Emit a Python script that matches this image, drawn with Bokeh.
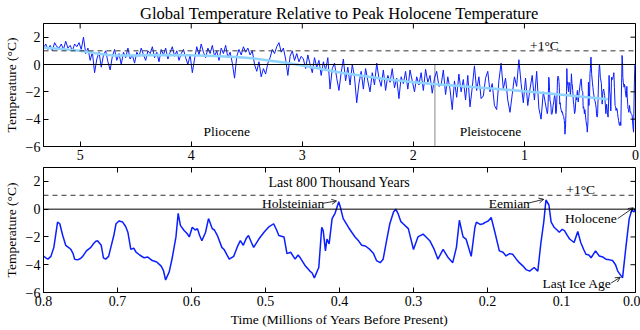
import numpy as np
from bokeh.plotting import figure
from bokeh.layouts import column
from bokeh.models import Range1d, FixedTicker, Label, Arrow, OpenHead, Span
from bokeh.embed import file_html
from bokeh.resources import INLINE

FONT = "Liberation Serif"

# ---------------- data ----------------
top_start = 5.33
top_step = 0.02
top_temp = [
    1.2, 1.5, 1.1, 1.4, 1.0, 1.6, 1.3, 1.2, 1.5, 1.1, 1.7, 1.2, 1.4, 1.0, 1.5, 1.3, 1.6, 1.1, 2.0,
    0.8, 1.2, 0.3, 0.9, -0.6, 0.4, 0.9, -0.2, 0.7, 1.0, 0.2, -0.4, 0.6, 1.1, 0.3, 0.8, 0.0, 0.9, 0.5, 1.2, 0.4, 0.7, 0.1, 0.9,
    0.6, 1.2, 0.7, 0.3, 1.0, 0.8, 1.3, 0.5, 0.9, 0.2, 1.1, 0.7, 1.2, 0.4, 0.9, 1.3, 0.6, 1.0, 0.3, 0.8, 1.1, 0.5, 0.0, 0.7,
    -0.6, 0.4, 1.3, 0.7, 1.5, 0.9, 0.5, 1.2, 0.8, 1.4, 0.6, 1.0, 0.3, 1.2, 0.8, 1.4, 0.5, 0.9, 0.1, -1.0, 0.6, 1.1, 0.7, 1.3, 0.9,
    1.2, 0.7, 1.0, 0.0, -0.5, 0.2, -0.9, -0.3, -0.7, 0.1,
    0.5, 1.1, 0.8, 1.3, 1.6, 0.9, 1.2, 0.4, -0.8, 0.6, 1.0, 0.3, 0.8, 0.2, 0.6,
    0.4, -0.3, 0.7, 0.0, -0.6, 0.5, -0.2, 0.3, -0.8, 0.2, -0.4, 0.5, -1.8, -0.3, 0.1, -1.0, -1.9,
    -0.6, 0.4, -1.2, -0.2, -1.5, 0.0, -0.9, -2.8, -1.4,
    -0.5, -1.8, -0.3, -1.2, -2.0, -0.6, -1.5, 0.1, -1.0,
    -1.6, -0.4, -1.9, -0.8, -1.3, -0.3, -1.7, -1.0, -2.5, -0.9, -1.4, -0.5,
    -1.8, -0.4, -1.2, -2.0, -0.9, -1.5, -0.6, -1.9, -0.35, -1.3, -0.8, -2.1, -1.0, -0.5, -1.6,
    -1.5, -0.4, -2.2, -0.9, -1.8, -3.3, -1.2, -2.4, -0.7, -2.0, -1.1, -2.6, -0.8, -3.1, -1.7, -0.1, -1.9, -0.9, -2.5, -2.3, -1.0, -0.5, -2.0,
    -1.4, -3.0, -3.3, -1.2, 0.1, -1.8, -1.0, -2.6, -3.5, -2.2, -0.9, -1.6, 0.35, -1.4, -2.8, -1.0, -3.0, -1.8, -0.8, -2.6, -0.5, -3.2, -4.0, -2.0,
]
top_time = list(np.round(top_start - top_step * np.arange(len(top_temp)), 3))

# light-blue long-term trend
trend_time = [5.33, 5.15, 5.0, 4.85, 4.7, 4.5, 4.3, 4.0, 3.8, 3.6, 3.45, 3.3, 3.15, 3.05,
              2.85, 2.65, 2.4, 2.2, 2.0, 1.8, 1.55, 1.3, 1.05, 0.8, 0.5, 0.25]
trend_temp = [1.25, 1.12, 1.0, 0.8, 0.65, 0.65, 0.7, 0.68, 0.62, 0.55, 0.45, 0.3, 0.12, 0.0,
              -0.3, -0.6, -0.9, -1.12, -1.3, -1.45, -1.6, -1.75, -1.92, -2.1, -2.35, -2.55]

# Bottom panel: last 800 thousand years
bot_time = [0.800, 0.797, 0.794, 0.790, 0.786, 0.783, 0.781, 0.778, 0.774, 0.770, 0.765, 0.763, 0.760, 0.758, 0.754,
            0.750, 0.747, 0.742, 0.736, 0.732, 0.729, 0.727, 0.722, 0.719, 0.716, 0.712, 0.709, 0.705, 0.702, 0.698, 0.693, 0.689, 0.686,
            0.682, 0.678, 0.675, 0.670, 0.664, 0.659, 0.653, 0.647, 0.641, 0.638, 0.635, 0.630, 0.626, 0.621, 0.618, 0.615, 0.610, 0.606, 0.603,
            0.599, 0.595, 0.592, 0.589, 0.586, 0.581, 0.577, 0.572, 0.569, 0.565, 0.559, 0.556, 0.549, 0.543, 0.538, 0.534, 0.530,
            0.526, 0.523, 0.519, 0.516, 0.509, 0.502, 0.496, 0.489, 0.485, 0.482, 0.475, 0.471, 0.466, 0.460, 0.456, 0.453, 0.446,
            0.440, 0.437, 0.434, 0.428, 0.424, 0.422, 0.419, 0.417, 0.414, 0.410, 0.406, 0.401, 0.399, 0.395,
            0.388, 0.383, 0.379, 0.374, 0.370, 0.365, 0.359, 0.354, 0.350, 0.345, 0.341, 0.336, 0.332, 0.327, 0.324, 0.321, 0.317, 0.314,
            0.307, 0.300, 0.294, 0.287, 0.283, 0.278, 0.272, 0.267, 0.260, 0.253, 0.247, 0.242, 0.238, 0.233, 0.229,
            0.222, 0.217, 0.215, 0.210, 0.206, 0.203, 0.199, 0.195, 0.190, 0.184, 0.179, 0.175, 0.170, 0.166, 0.161, 0.157, 0.152, 0.148, 0.143,
            0.137, 0.132, 0.128, 0.124, 0.121, 0.117, 0.114, 0.110, 0.106, 0.103, 0.099, 0.096, 0.092, 0.089, 0.083, 0.078,
            0.074, 0.070, 0.067, 0.063, 0.060, 0.054, 0.049, 0.044, 0.040, 0.035, 0.031, 0.027, 0.024, 0.0175, 0.013, 0.0085, 0.005, 0.002, 0.0]
bot_temp = [-3.37, -3.5, -3.6, -3.4, -2.75, -1.66, -0.93, -1.05, -1.9, -2.6, -2.8, -2.9, -3.2, -3.6, -3.65,
            -3.55, -3.4, -3.0, -2.75, -2.45, -2.3, -2.27, -2.6, -3.5, -3.6, -3.4, -2.75, -1.9, -1.05, -0.85, -0.93, -1.25, -1.66,
            -2.9, -2.8, -3.1, -3.3, -3.5, -3.45, -3.7, -3.8, -4.1, -4.4, -5.1, -4.5, -3.5, -2.0, -0.3, -1.17, -1.54, -1.75, -2.0,
            -1.3, -1.5, -1.4, -1.9, -2.27, -1.66, -0.68, -1.4, -1.5, -1.9, -2.75, -2.9, -3.6, -3.4, -2.7, -2.27, -2.6,
            -2.1, -1.9, -2.4, -2.75, -2.15, -1.66, -1.3, -1.05, -1.5, -1.9, -2.0, -3.2, -3.1, -3.6, -3.3, -3.5, -4.1,
            -4.46, -4.6, -4.95, -4.2, -1.3, -1.54, -3.0, -2.15, -2.5, -0.68, -0.3, 0.54, 0.17, -0.68,
            -1.3, -1.7, -2.0, -2.3, -2.6, -2.65, -2.9, -3.2, -3.7, -3.85, -3.6, -2.15, -1.05, -0.2, 0.0, -0.3, -0.9, -1.05,
            -1.4, -2.9, -2.0, -1.8, -2.0, -2.27, -2.9, -3.6, -2.9, -3.5, -3.85, -2.75, -0.8, -2.0, -2.15,
            -3.4, -1.3, -0.93, -1.1, -1.05, -0.95, -0.85, -0.6, -1.66, -3.0, -3.1, -3.37, -3.2, -3.25, -3.6, -3.85, -4.1, -4.35, -4.46,
            -4.2, -4.46, -2.5, -0.93, 0.66, 0.3, -0.93, -1.3, -1.5, -1.66, -1.45, -1.54, -1.9, -2.15, -2.4, -1.6,
            -2.4, -2.9, -3.25, -3.3, -3.5, -3.0, -3.37, -3.45, -3.6, -3.65, -3.7, -4.0, -4.46, -4.95, -2.75, -0.68, -0.07, -0.2, 0.05]

y_ticks = [-6, -4, -2, 0, 2]
y_labels = ["\u22126", "\u22124", "\u22122", "0", "2"]
top_x_ticks = [0, 1, 2, 3, 4, 5]
bot_x_ticks = [0, 0.1, 0.2, 0.3, 0.4, 0.5, 0.6, 0.7, 0.8]
bot_x_labels = ["0.0", "0.1", "0.2", "0.3", "0.4", "0.5", "0.6", "0.7", "0.8"]
pliocene_boundary = 1.806

full_time = top_time + bot_time
full_temp = top_temp + bot_temp

Y_LO, Y_HI = -6, 3
TOP_X = (5.33, 0)
BOT_X = (0.8, 0)

BLUE = "#0a1eff"
LIGHT = "#8fd3ff"


def style(p, xticks, xrng, xlabels=None):
    p.xaxis.ticker = FixedTicker(ticks=xticks)
    p.yaxis.ticker = FixedTicker(ticks=y_ticks)
    p.yaxis.major_label_overrides = dict(zip(y_ticks, y_labels))
    if xlabels is not None:
        p.xaxis.major_label_overrides = dict(zip(xticks, xlabels))
    for ax in p.xaxis + p.yaxis:
        ax.major_tick_in = 5
        ax.major_tick_out = 0
        ax.minor_tick_line_color = None
        ax.axis_line_color = "black"
        ax.major_tick_line_color = "black"
        ax.major_label_text_font = FONT
        ax.major_label_text_font_size = "14px"
        ax.major_label_text_color = "black"
        ax.major_label_standoff = 3
        ax.axis_label_text_font = FONT
        ax.axis_label_text_font_size = "13.5px"
        ax.axis_label_text_font_style = "normal"
        ax.axis_label_text_color = "black"
    p.yaxis.axis_label = "Temperature (\u00b0C)"
    p.yaxis.axis_label_standoff = 4
    # mirrored inward ticks on the top and right edges (half of each dash is clipped by the frame)
    p.scatter(x=xticks, y=[Y_HI] * len(xticks), marker="dash", angle=np.pi / 2, size=10,
              line_color="black", line_width=1)
    p.scatter(x=[xrng[1]] * len(y_ticks), y=y_ticks, marker="dash", size=10,
              line_color="black", line_width=1)
    p.xgrid.grid_line_color = None
    p.ygrid.grid_line_color = None
    p.outline_line_color = "black"
    p.background_fill_color = "white"
    p.border_fill_color = "white"


# ---------------- top panel ----------------
p1 = figure(width=640, height=166, x_range=Range1d(*TOP_X), y_range=Range1d(Y_LO, Y_HI),
            output_backend="svg", toolbar_location=None,
            min_border_left=39, min_border_right=5, min_border_top=22, min_border_bottom=20)
p1.title.text = "Global Temperature Relative to Peak Holocene Temperature"
p1.title.align = "center"
p1.title.text_font = FONT
p1.title.text_font_size = "16.5px"
p1.title.text_font_style = "normal"
p1.title.text_color = "black"
p1.title.standoff = 2

p1.add_layout(Span(location=1, dimension="width", line_color="#333333", line_dash="5 4", line_width=1))
p1.add_layout(Span(location=0, dimension="width", line_color="black", line_width=1))
p1.segment(x0=[pliocene_boundary], y0=[Y_LO], x1=[pliocene_boundary], y1=[0], line_color="#888888", line_width=1)
p1.line(full_time, full_temp, line_color=BLUE, line_width=1)
p1.line(trend_time, trend_temp, line_color=LIGHT, line_width=2.5)
style(p1, top_x_ticks, TOP_X)

p1.add_layout(Label(x=0.82, y=1.42, text="+1\u00b0C", text_font=FONT, text_font_size="13.5px",
                    text_align="center", text_baseline="middle", text_color="black"))
p1.add_layout(Label(x=3.68, y=-4.88, text="Pliocene", text_font=FONT, text_font_size="13.5px",
                    text_align="center", text_baseline="middle", text_color="black"))
p1.add_layout(Label(x=1.305, y=-4.88, text="Pleistocene", text_font=FONT, text_font_size="13.5px",
                    text_align="center", text_baseline="middle", text_color="black"))

# ---------------- bottom panel ----------------
p2 = figure(width=640, height=164, x_range=Range1d(*BOT_X), y_range=Range1d(Y_LO, Y_HI),
            output_backend="svg", toolbar_location=None,
            min_border_left=39, min_border_right=5, min_border_top=1, min_border_bottom=38)
p2.add_layout(Span(location=1, dimension="width", line_color="#333333", line_dash="5 4", line_width=1))
p2.add_layout(Span(location=0, dimension="width", line_color="black", line_width=1))
p2.line(bot_time, bot_temp, line_color=BLUE, line_width=1.5)
style(p2, bot_x_ticks, BOT_X, bot_x_labels)
p2.below[0].axis_label = "Time (Millions of Years Before Present)"
p2.below[0].axis_label_standoff = 3

bt = np.array(bot_time)
bv = np.array(bot_temp)


def peak(lo, hi, use_min=False):
    m = (bt >= lo) & (bt <= hi)
    idx = np.where(m)[0]
    k = idx[np.argmin(bv[idx])] if use_min else idx[np.argmax(bv[idx])]
    return float(bt[k]), float(bv[k])


lab_kw = dict(text_font=FONT, text_font_size="13.5px", text_baseline="middle", text_color="black")
p2.add_layout(Label(x=0.4, y=1.9, text="Last 800 Thousand Years", text_align="center",
                    **dict(lab_kw, text_font_size="14px")))
p2.add_layout(Label(x=0.074, y=1.44, text="+1\u00b0C", text_align="center", **lab_kw))

annots = [
    ("Holsteinian", 0.4626, 0.42, peak(0.38, 0.42), (0.423, 0.42)),
    ("Eemian", 0.1706, 0.42, peak(0.11, 0.13), (0.146, 0.42)),
    ("Holocene", 0.0602, -0.68, peak(0.0, 0.012), (0.024, -0.68)),
    ("Last Ice Age", 0.0792, -5.32, peak(0.0, 0.03, use_min=True), (0.033, -5.32)),
]
for txt, tx, ty, (px, py), (sx, sy) in annots:
    p2.add_layout(Label(x=tx, y=ty, text=txt, text_align="center", **lab_kw))
    p2.add_layout(Arrow(end=OpenHead(size=5, line_width=0.8, line_color="black"),
                        x_start=sx, y_start=sy, x_end=px + 0.003, y_end=py + 0.05,
                        line_color="black", line_width=0.8))

layout = column(p1, p2, spacing=0)
open("out.html", "w").write(file_html(layout, INLINE))
